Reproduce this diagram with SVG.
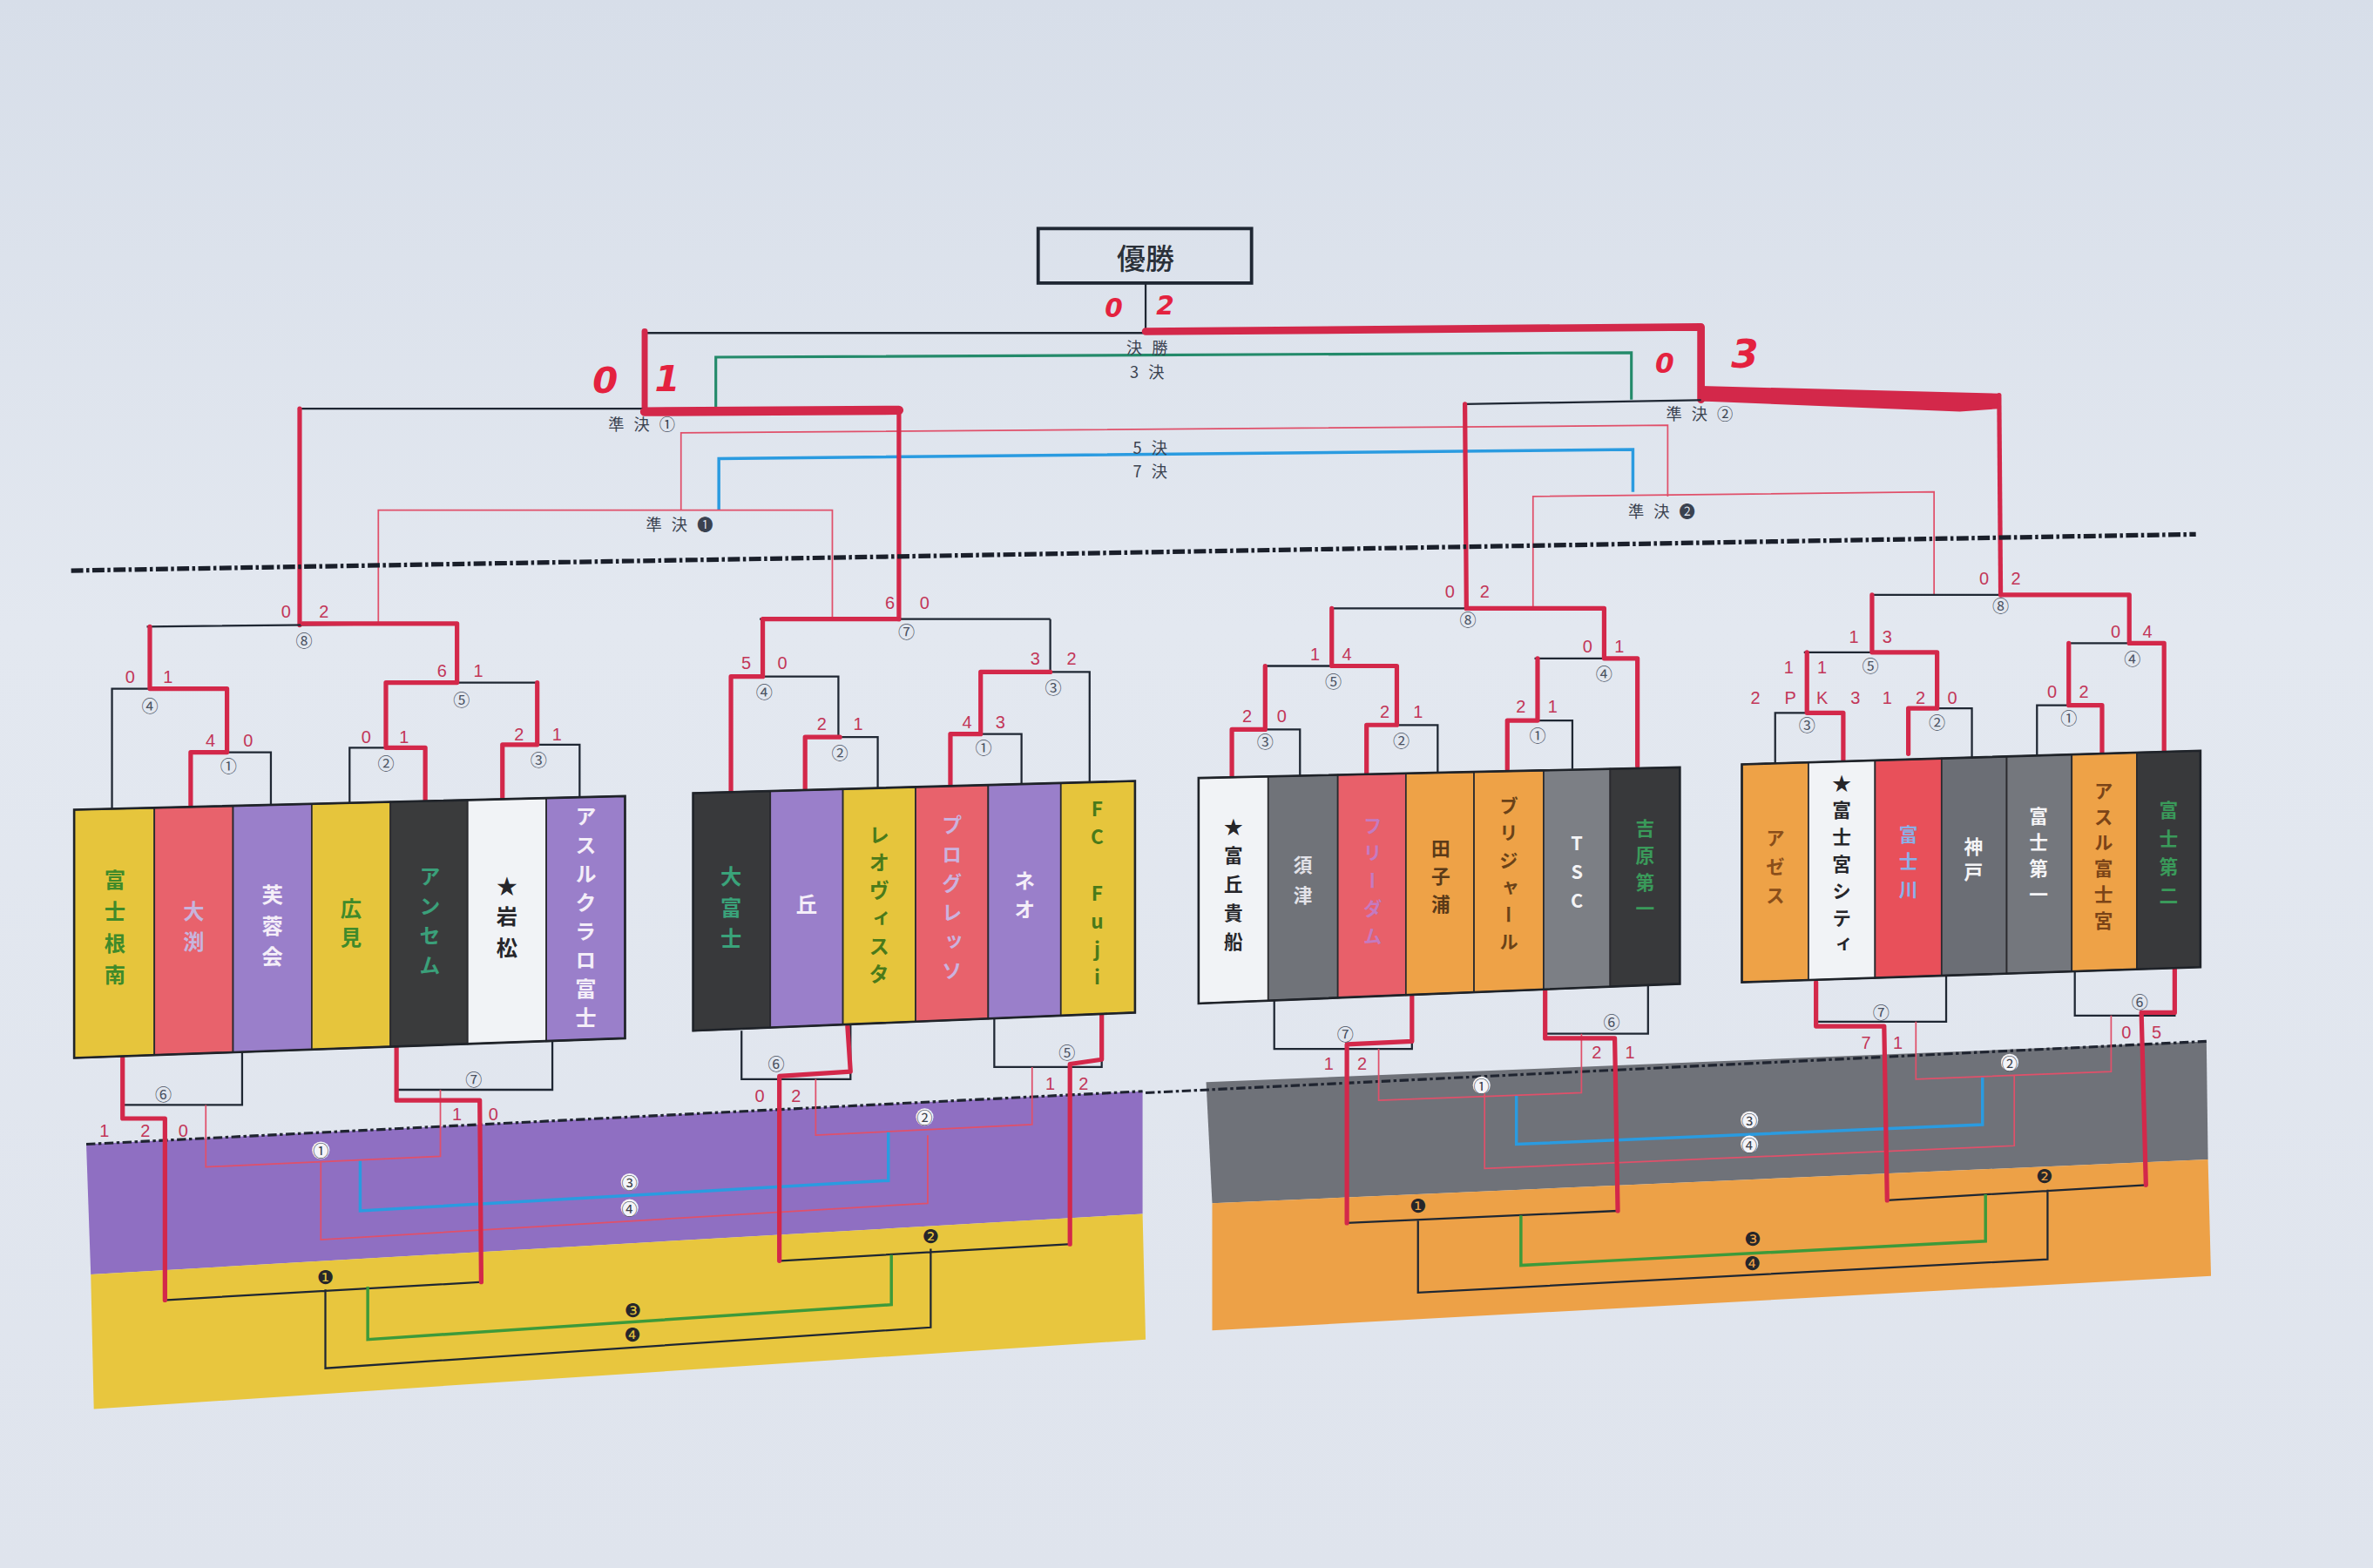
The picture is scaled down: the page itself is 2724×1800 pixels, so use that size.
<svg xmlns="http://www.w3.org/2000/svg" width="2724" height="1800" viewBox="0 0 2724 1800">
<defs>
<linearGradient id="paper" x1="0" y1="0" x2="0" y2="1">
<stop offset="0" stop-color="#d7dee9"/>
<stop offset="0.4" stop-color="#e3e8f0"/>
<stop offset="1" stop-color="#dfe4ed"/>
</linearGradient>
<style>
.bk{stroke:#1f2733;stroke-width:1.3;fill:none}
.rd{stroke:#d3284a;stroke-width:3;fill:none;stroke-linejoin:round;stroke-linecap:round}
.rt{stroke:#d3284a;stroke-width:5;fill:none;stroke-linejoin:round;stroke-linecap:round}
.pk{stroke:#e0506a;stroke-width:1;fill:none}
.bl{stroke:#2a9be0;stroke-width:2;fill:none}
.gr{stroke:#238a6a;stroke-width:1.8;fill:none}
.gr2{stroke:#3d9a3a;stroke-width:2;fill:none}
.dash{stroke:#1a1f2a;stroke-width:3;stroke-dasharray:8 2 2 2;fill:none}
.dash2{stroke:#1f2430;stroke-width:1.8;stroke-dasharray:6 2 2 2;fill:none}
.col{stroke:#2a2a2e;stroke-width:1}
.frame{stroke:#1f2329;stroke-width:1.5;fill:none}
.sc{fill:#c23658;font-family:"Liberation Sans",sans-serif;font-size:11.5px;text-anchor:middle;dominant-baseline:central}
.hw{fill:#e4223f;font-family:"DejaVu Sans",sans-serif;font-style:italic;font-weight:bold;text-anchor:middle;dominant-baseline:central}
.cn{fill:#4a5262;font-family:"Noto Sans CJK JP","DejaVu Sans",sans-serif;font-size:11px;text-anchor:middle;dominant-baseline:central}
.cw{fill:#3a3f4a;font-family:"Noto Sans CJK JP","DejaVu Sans",sans-serif;font-size:10.5px;text-anchor:middle;dominant-baseline:central}
.cf{fill:#26262a;font-family:"DejaVu Sans","Noto Sans CJK JP",sans-serif;font-size:12.5px;text-anchor:middle;dominant-baseline:central}
.lb{fill:#3a4250;font-family:"Noto Sans CJK JP","DejaVu Sans",sans-serif;font-size:10.5px;letter-spacing:2px;text-anchor:middle;dominant-baseline:central}
.tm{font-family:"Noto Sans CJK JP","Noto Sans CJK SC",sans-serif;font-weight:700;writing-mode:vertical-rl;text-orientation:upright}
</style>
</defs>
<rect width="2724" height="1800" fill="url(#paper)"/>
<g transform="scale(1.7372 1.7375)">

<!-- lower bands -->
<g id="band-left">
<polygon points="57,756 755,721 755,802 60,842" fill="#8f6fc2"/>
<polygon points="60,842 755,802 757,885 62,931" fill="#e8c63e"/>
<line class="dash2" x1="57" y1="756" x2="755" y2="721"/>
</g>
<g id="band-right">
<polygon points="797,715 1458,688 1459,766 801,795" fill="#6f7279"/>
<polygon points="801,795 1459,766 1461,843 801,879" fill="#eda147"/>
<line class="dash2" x1="757" y1="722" x2="1458" y2="688"/>
</g>

<!-- title -->
<g id="title">
<rect x="686" y="151" width="141" height="36" fill="none" stroke="#1f2733" stroke-width="2.2"/>
<text x="757" y="170" font-family="'Noto Sans CJK JP',sans-serif" font-size="19" font-weight="500" fill="#2a3038" text-anchor="middle" dominant-baseline="central">優勝</text>
</g>

<!-- connectors -->
<g id="connectors">
<line class="bk" x1="757" y1="187" x2="757" y2="220"/>
<line class="bk" x1="426" y1="220" x2="757" y2="220"/>
<path class="rt" d="M757,219 L1124,216 L1124,264"/>
<path class="rd" d="M426,270 L426,219" style="stroke-width:4"/>
<path class="gr" d="M473,270 L473,236 L1078,233 L1078,264"/>
<path class="pk" d="M450,337 L450,286 L1102,281 L1102,328"/>
<path class="bl" d="M475,337 L475,303 L1079,297 L1079,325"/>
<line class="bk" x1="197" y1="270" x2="594" y2="270"/>
<path class="rt" d="M426,272 L594,271" style="stroke-width:6"/>
<path class="rd" d="M198,413 L198,270"/>
<path class="rd" d="M594,409 L594,270"/>
<line class="bk" x1="968" y1="267" x2="1321" y2="261"/>
<polygon points="1124,255 1321,260 1321,270 1295,272 1124,265" fill="#d3284a"/>
<path class="rd" d="M969,402 L968,267"/>
<path class="rd" d="M1322,393 L1321,261"/>
<path class="pk" d="M250,412 L250,337 L550,337 L550,409"/>
<path class="pk" d="M1013,402 L1013,328 L1278,325 L1278,393"/>
<line class="dash" x1="47" y1="377" x2="1451" y2="353"/>

<!-- group A upper -->
<path class="bk" d="M97,414 L302,412 M74,535 L74,455 L150,455 M99,455 L99,414 M126,533 L126,497 L179,497 L179,532 M150,497 L150,455 M255,451 L355,451 M302,451 L302,412 M231,531 L231,494 L281,494 L281,530 M255,494 L255,451 M332,529 L332,492 L383,492 L383,527 M355,492 L355,451"/>
<path class="rd" d="M126,533 L126,497 L150,497 L150,455 L99,455 L99,414"/>
<path class="rd" d="M281,530 L281,494 L255,494 L255,451 L302,451 L302,412 L200,412"/>
<path class="rd" d="M332,529 L332,492 L355,492 L355,451"/>
<!-- group B upper -->
<path class="bk" d="M502,409 L694,409 M483,524 L483,447 L554,447 L554,487 M532,522 L532,487 L580,487 L580,521 M504,447 L504,409 M694,409 L694,444 M648,444 L720,444 L720,517 M628,520 L628,485 L675,485 L675,518 M648,485 L648,444"/>
<path class="rd" d="M483,524 L483,447 L504,447 L504,409 L594,409"/>
<path class="rd" d="M532,522 L532,487 L555,487"/>
<path class="rd" d="M628,520 L628,485 L648,485 L648,444 L694,444"/>
<!-- group C upper -->
<path class="bk" d="M880,402 L1060,402 M835,440 L923,440 M880,440 L880,402 M814,514 L814,482 L859,482 L859,513 M836,482 L836,440 M903,512 L903,479 L950,479 L950,511 M923,479 L923,440 M1014,435 L1082,435 L1082,506 M1060,435 L1060,402 M996,508 L996,476 L1039,476 L1039,508 M1016,476 L1016,435"/>
<path class="rd" d="M903,512 L903,479 L923,479 L923,440 L880,440 L880,402"/>
<path class="rd" d="M814,514 L814,482 L836,482 L836,440"/>
<path class="rd" d="M996,508 L996,476 L1016,476 L1016,435"/>
<path class="rd" d="M1082,506 L1082,435 L1060,435 L1060,402 L969,402"/>
<!-- group D upper -->
<path class="bk" d="M1236,393 L1407,393 M1192,431 L1278,431 M1237,431 L1237,393 M1173,504 L1173,471 L1218,471 L1218,504 M1194,471 L1194,431 M1261,498 L1261,468 L1303,468 L1303,501 M1280,468 L1280,431 M1366,425 L1430,425 L1430,496 M1407,425 L1407,393 M1346,500 L1346,466 L1389,466 L1389,497 M1367,466 L1367,425"/>
<path class="rd" d="M1218,504 L1218,471 L1194,471 L1194,431"/>
<path class="rd" d="M1261,498 L1261,468 L1280,468 L1280,431 L1237,431 L1237,393"/>
<path class="rd" d="M1389,497 L1389,466 L1367,466 L1367,425"/>
<path class="rd" d="M1430,496 L1430,425 L1407,425 L1407,393 L1322,393"/>

<!-- lower brackets left -->
<path class="bk" d="M81,699 L81,730 L160,730 L160,695 M262,692 L262,720 L365,720 L365,687 M490,681 L490,713 L562,713 L562,677 M657,672 L657,705 L728,705 L728,669"/>
<path class="bk" d="M108,859 L319,847 M215,852 L215,904 L615,877 L615,825 M516,833 L708,822"/>
<path class="pk" d="M136,730 L136,771 L291,764 L291,720 M212,767 L212,819 L613,795 L613,750 M539,713 L539,750 L682,743 L682,705"/>
<path class="bl" d="M238,767 L238,800 L587,780 L587,748"/>
<path class="gr2" d="M243,850 L243,885 L589,862 L589,829"/>
<path class="rd" d="M81,699 L81,739 L109,739 L109,859"/>
<path class="rd" d="M262,692 L262,727 L317,727 L318,847"/>
<path class="rd" d="M560,678 L562,708 L515,711 L515,833"/>
<path class="rd" d="M728,669 L728,700 L707,703 L707,822"/>
<!-- lower brackets right -->
<path class="bk" d="M842,659 L842,693 L933,693 L933,658 M1021,654 L1021,683 L1089,683 L1089,650 M1200,649 L1200,675 L1286,675 L1286,644 M1371,640 L1371,671 L1437,671 L1437,639"/>
<path class="bk" d="M890,808 L1069,800 M937,806 L937,854 L1353,832 L1353,786 M1247,793 L1418,783"/>
<path class="pk" d="M911,693 L911,727 L1045,722 L1045,683 M981,722 L981,772 L1331,757 L1331,710 M1266,675 L1266,713 L1395,708 L1395,671"/>
<path class="bl" d="M1002,724 L1002,756 L1310,743 L1310,712"/>
<path class="gr2" d="M1005,803 L1005,836 L1312,820 L1312,789"/>
<path class="rd" d="M933,658 L933,688 L890,690 L890,808"/>
<path class="rd" d="M1021,654 L1021,686 L1067,686 L1069,800"/>
<path class="rd" d="M1200,649 L1200,678 L1245,678 L1247,793"/>
<path class="rd" d="M1437,639 L1437,669 L1415,669 L1418,783"/>
</g>

<!-- labels -->
<g id="labels">
<text class="lb" x="759" y="229">決 勝</text>
<text class="lb" x="759" y="245">3 決</text>
<text class="lb" x="761" y="295">5 決</text>
<text class="lb" x="761" y="311">7 決</text>
<text class="lb" x="425" y="280">準 決 ①</text>
<text class="lb" x="1124" y="273">準 決 ②</text>
<text class="lb" x="450" y="346">準 決 ❶</text>
<text class="lb" x="1099" y="337">準 決 ❷</text>
<text class="hw" x="736" y="204" font-size="17">0</text>
<text class="hw" x="770" y="202" font-size="17">2</text>
<text class="hw" x="400" y="251" font-size="24">0</text>
<text class="hw" x="441" y="250" font-size="24">1</text>
<text class="hw" x="1100" y="240" font-size="18">0</text>
<text class="hw" x="1153" y="234" font-size="26">3</text>
</g>

<!-- match numbers -->
<g id="match-numbers">
<text class="cn" x="201" y="423">⑧</text><text class="cn" x="99" y="466">④</text><text class="cn" x="151" y="506">①</text>
<text class="cn" x="305" y="462">⑤</text><text class="cn" x="255" y="504">②</text><text class="cn" x="356" y="502">③</text>
<text class="cn" x="599" y="417">⑦</text><text class="cn" x="505" y="457">④</text><text class="cn" x="555" y="497">②</text>
<text class="cn" x="696" y="454">③</text><text class="cn" x="650" y="494">①</text>
<text class="cn" x="970" y="409">⑧</text><text class="cn" x="881" y="450">⑤</text><text class="cn" x="836" y="490">③</text>
<text class="cn" x="926" y="489">②</text><text class="cn" x="1060" y="445">④</text><text class="cn" x="1016" y="486">①</text>
<text class="cn" x="1322" y="400">⑧</text><text class="cn" x="1236" y="440">⑤</text><text class="cn" x="1194" y="479">③</text>
<text class="cn" x="1280" y="477">②</text><text class="cn" x="1409" y="435">④</text><text class="cn" x="1367" y="474">①</text>
<text class="cn" x="108" y="723">⑥</text><text class="cn" x="313" y="713">⑦</text>
<text class="cn" x="513" y="703">⑥</text><text class="cn" x="705" y="695">⑤</text>
<text class="cn" x="889" y="683">⑦</text><text class="cn" x="1065" y="675">⑥</text>
<text class="cn" x="1243" y="669">⑦</text><text class="cn" x="1414" y="662">⑥</text>
<g fill="#f4f4f8">
<circle cx="212" cy="760" r="5.8"/><circle cx="611" cy="738" r="5.8"/><circle cx="416" cy="781" r="5.8"/><circle cx="416" cy="798" r="5.8"/>
<circle cx="979" cy="717" r="5.8"/><circle cx="1328" cy="702" r="5.8"/><circle cx="1156" cy="740" r="5.8"/><circle cx="1156" cy="756" r="5.8"/>
</g>
<text class="cw" x="212" y="760">①</text><text class="cw" x="611" y="738">②</text><text class="cw" x="416" y="781">③</text><text class="cw" x="416" y="798">④</text>
<text class="cw" x="979" y="717">①</text><text class="cw" x="1328" y="702">②</text><text class="cw" x="1156" y="740">③</text><text class="cw" x="1156" y="756">④</text>
<text class="cf" x="215" y="844">❶</text><text class="cf" x="615" y="817">❷</text><text class="cf" x="418" y="866">❸</text><text class="cf" x="418" y="882">❹</text>
<text class="cf" x="937" y="797">❶</text><text class="cf" x="1351" y="777">❷</text><text class="cf" x="1158" y="819">❸</text><text class="cf" x="1158" y="835">❹</text>
</g>

<!-- scores -->
<g id="scores">
<text class="sc" x="189" y="404">0</text><text class="sc" x="214" y="404">2</text>
<text class="sc" x="86" y="447">0</text><text class="sc" x="111" y="447">1</text>
<text class="sc" x="139" y="489">4</text><text class="sc" x="164" y="489">0</text>
<text class="sc" x="292" y="443">6</text><text class="sc" x="316" y="443">1</text>
<text class="sc" x="242" y="487">0</text><text class="sc" x="267" y="487">1</text>
<text class="sc" x="343" y="485">2</text><text class="sc" x="368" y="485">1</text>
<text class="sc" x="588" y="398">6</text><text class="sc" x="611" y="398">0</text>
<text class="sc" x="493" y="438">5</text><text class="sc" x="517" y="438">0</text>
<text class="sc" x="543" y="478">2</text><text class="sc" x="567" y="478">1</text>
<text class="sc" x="684" y="435">3</text><text class="sc" x="708" y="435">2</text>
<text class="sc" x="639" y="477">4</text><text class="sc" x="661" y="477">3</text>
<text class="sc" x="958" y="391">0</text><text class="sc" x="981" y="391">2</text>
<text class="sc" x="869" y="432">1</text><text class="sc" x="890" y="432">4</text>
<text class="sc" x="824" y="473">2</text><text class="sc" x="847" y="473">0</text>
<text class="sc" x="915" y="470">2</text><text class="sc" x="937" y="470">1</text>
<text class="sc" x="1049" y="427">0</text><text class="sc" x="1070" y="427">1</text>
<text class="sc" x="1005" y="467">2</text><text class="sc" x="1026" y="467">1</text>
<text class="sc" x="1311" y="382">0</text><text class="sc" x="1332" y="382">2</text>
<text class="sc" x="1225" y="421">1</text><text class="sc" x="1247" y="421">3</text>
<text class="sc" x="1182" y="441">1</text><text class="sc" x="1204" y="441">1</text>
<text class="sc" x="1160" y="461">2</text><text class="sc" x="1183" y="461">P</text><text class="sc" x="1204" y="461">K</text><text class="sc" x="1226" y="461">3</text><text class="sc" x="1247" y="461">1</text><text class="sc" x="1269" y="461">2</text><text class="sc" x="1290" y="461">0</text>
<text class="sc" x="1398" y="417">0</text><text class="sc" x="1419" y="417">4</text>
<text class="sc" x="1356" y="457">0</text><text class="sc" x="1377" y="457">2</text>
<text class="sc" x="69" y="747">1</text><text class="sc" x="96" y="747">2</text><text class="sc" x="121" y="747">0</text>
<text class="sc" x="302" y="736">1</text><text class="sc" x="326" y="736">0</text>
<text class="sc" x="502" y="724">0</text><text class="sc" x="526" y="724">2</text>
<text class="sc" x="694" y="716">1</text><text class="sc" x="716" y="716">2</text>
<text class="sc" x="878" y="703">1</text><text class="sc" x="900" y="703">2</text>
<text class="sc" x="1055" y="695">2</text><text class="sc" x="1077" y="695">1</text>
<text class="sc" x="1233" y="689">7</text><text class="sc" x="1254" y="689">1</text>
<text class="sc" x="1405" y="682">0</text><text class="sc" x="1425" y="682">5</text>
</g>

<!-- teams group A -->
<g id="team-fujinenan"><polygon class="col" points="49,535 102,533.7 102,697.1 49,699" fill="#e6c53c"/><text class="tm" x="76" y="574" font-size="14" letter-spacing="7" fill="#3f8a2a">富士根南</text></g>
<g id="team-obuchi"><polygon class="col" points="102,533.7 154,532.4 154,695.3 102,697.1" fill="#e8626c"/><text class="tm" x="128" y="595" font-size="14" letter-spacing="6" fill="#c7b4dc">大渕</text></g>
<g id="team-fuyokai"><polygon class="col" points="154,532.4 206,531.1 206,693.4 154,695.3" fill="#9a7fca"/><text class="tm" x="180" y="584" font-size="14" letter-spacing="6.5" fill="#f4eef8">芙蓉会</text></g>
<g id="team-hiromi"><polygon class="col" points="206,531.1 258,529.8 258,691.5 206,693.4" fill="#e6c53c"/><text class="tm" x="232" y="593" font-size="14" letter-spacing="5" fill="#3f8a2a">広見</text></g>
<g id="team-anthem"><polygon class="col" points="258,529.8 309,528.6 309,689.7 258,691.5" fill="#3a3b3c"/><text class="tm" x="284" y="572" font-size="14" letter-spacing="5.5" fill="#3aa07a">アンセム</text></g>
<g id="team-iwamatsu"><polygon class="col" points="309,528.6 361,527.3 361,687.9 309,689.7" fill="#f1f3f6"/><text class="tm" x="335" y="578" font-size="14" letter-spacing="6.5" fill="#26262a">★岩松</text></g>
<g id="team-azulclaro"><polygon class="col" points="361,527.3 413,526 413,686 361,687.9" fill="#9a7fca"/><text class="tm" x="387" y="532" font-size="14" letter-spacing="5" fill="#f4eef8">アスルクラロ富士</text></g>
<polygon class="frame" points="49,535 413,526 413,686 49,699"/>

<!-- teams group B -->
<g id="team-ofuji"><polygon class="col" points="458,524 509,522.6 509,678.9 458,681" fill="#38393b"/><text class="tm" x="483" y="572" font-size="14" letter-spacing="6.5" fill="#3aa37a">大富士</text></g>
<g id="team-oka"><polygon class="col" points="509,522.6 557,521.3 557,676.9 509,678.9" fill="#9a7fca"/><text class="tm" x="533" y="590" font-size="14" fill="#f4eef8">丘</text></g>
<g id="team-leovista"><polygon class="col" points="557,521.3 605,520 605,675 557,676.9" fill="#e6c53c"/><text class="tm" x="581" y="544.5" font-size="13.5" letter-spacing="5" fill="#4a7a1a">レオヴィスタ</text></g>
<g id="team-progresso"><polygon class="col" points="605,520 653,518.7 653,673 605,675" fill="#e8626c"/><text class="tm" x="629" y="538.5" font-size="13.5" letter-spacing="5.7" fill="#cbb2de">プログレッソ</text></g>
<g id="team-neo"><polygon class="col" points="653,518.7 701,517.3 701,671 653,673" fill="#9a7fca"/><text class="tm" x="677" y="575" font-size="14" letter-spacing="5" fill="#f4eef8">ネオ</text></g>
<g id="team-fcfuji"><polygon class="col" points="701,517.3 750,516 750,669 701,671" fill="#e6c53c"/><text class="tm" x="725" y="528" font-size="13" letter-spacing="5.5" fill="#4a7a1a">FC Fuji</text></g>
<polygon class="frame" points="458,524 750,516 750,669 458,681"/>

<!-- teams group C -->
<g id="team-fuoka"><polygon class="col" points="792,514 838,513 838,661.1 792,663" fill="#f1f3f6"/><text class="tm" x="815" y="540" font-size="12.5" letter-spacing="6.5" fill="#26262a">★富丘貴船</text></g>
<g id="team-suzu"><polygon class="col" points="838,513 884,512 884,659.2 838,661.1" fill="#707379"/><text class="tm" x="861" y="565" font-size="12.5" letter-spacing="7.5" fill="#e2e2e8">須津</text></g>
<g id="team-freedom"><polygon class="col" points="884,512 929,511 929,657.4 884,659.2" fill="#e8606a"/><text class="tm" x="907" y="539" font-size="12.5" letter-spacing="5.8" fill="#c47ac0">フリーダム</text></g>
<g id="team-tagonoura"><polygon class="col" points="929,511 974,510 974,655.6 929,657.4" fill="#eea247"/><text class="tm" x="952" y="554" font-size="12.5" letter-spacing="6" fill="#5a3a18">田子浦</text></g>
<g id="team-brizal"><polygon class="col" points="974,510 1020,509 1020,653.7 974,655.6" fill="#eea247"/><text class="tm" x="997" y="526" font-size="12.5" letter-spacing="5.5" fill="#6a4218">ブリジャール</text></g>
<g id="team-tsc"><polygon class="col" points="1020,509 1064,508 1064,651.9 1020,653.7" fill="#7c7f85"/><text class="tm" x="1042" y="551" font-size="12.5" letter-spacing="6.5" fill="#f4f4f6">TSC</text></g>
<g id="team-yoshiwara1"><polygon class="col" points="1064,508 1110,507 1110,650 1064,651.9" fill="#38393b"/><text class="tm" x="1087" y="541" font-size="12.5" letter-spacing="5.2" fill="#3a9a5a">吉原第一</text></g>
<polygon class="frame" points="792,514 1110,507 1110,650 792,663"/>

<!-- teams group D -->
<g id="team-azes"><polygon class="col" points="1151,505 1195,503.7 1195,647.5 1151,649" fill="#eea247"/><text class="tm" x="1173" y="547" font-size="12.5" letter-spacing="6.5" fill="#8a4e1a">アゼス</text></g>
<g id="team-fujinomiyacity"><polygon class="col" points="1195,503.7 1239,502.4 1239,646.1 1195,647.5" fill="#f1f3f6"/><text class="tm" x="1217" y="511" font-size="12.5" letter-spacing="5.3" fill="#26262a">★富士宮シティ</text></g>
<g id="team-fujikawa"><polygon class="col" points="1239,502.4 1283,501.1 1283,644.6 1239,646.1" fill="#e8505a"/><text class="tm" x="1261" y="545" font-size="12.5" letter-spacing="5.5" fill="#8ab0e8">富士川</text></g>
<g id="team-kanbe"><polygon class="col" points="1283,501.1 1326,499.8 1326,643.2 1283,644.6" fill="#6b6e75"/><text class="tm" x="1304" y="553" font-size="12.5" letter-spacing="4.5" fill="#f4f4f6">神戸</text></g>
<g id="team-fuji1"><polygon class="col" points="1326,499.8 1369,498.5 1369,641.8 1326,643.2" fill="#74777d"/><text class="tm" x="1347" y="533" font-size="12.5" letter-spacing="4.8" fill="#f4f4f6">富士第一</text></g>
<g id="team-azulfujinomiya"><polygon class="col" points="1369,498.5 1412,497.2 1412,640.4 1369,641.8" fill="#eea247"/><text class="tm" x="1390" y="516" font-size="12.5" letter-spacing="4.7" fill="#7a4418">アスル富士宮</text></g>
<g id="team-fuji2"><polygon class="col" points="1412,497.2 1454,496 1454,639 1412,640.4" fill="#38393b"/><text class="tm" x="1433" y="529" font-size="12.5" letter-spacing="6.2" fill="#3a9a5a">富士第二</text></g>
<polygon class="frame" points="1151,505 1454,496 1454,639 1151,649"/>
</g>
</svg>
